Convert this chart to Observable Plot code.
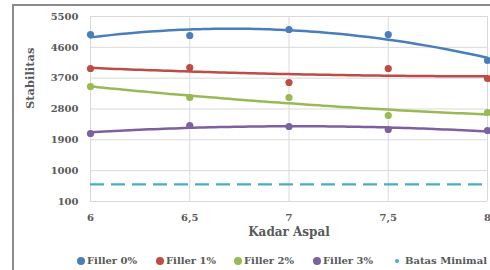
<!DOCTYPE html>
<html><head><meta charset="utf-8">
<script src="https://cdn.jsdelivr.net/npm/d3@7"></script>
<script src="https://cdn.jsdelivr.net/npm/@observablehq/plot@0.6"></script>
<style>
body{margin:0;background:#fff;width:490px;height:270px;overflow:hidden;position:relative;font-family:"DejaVu Serif",serif;}
#frame{position:absolute;left:12px;top:4px;width:500px;height:300px;border:2px solid #8c8c8c;box-sizing:border-box;}
#chart{position:absolute;left:0;top:0;}
.leg{position:absolute;top:253px;font:bold 10px "DejaVu Serif",serif;color:#595959;white-space:nowrap;line-height:16px;}
.leg span.m{display:inline-block;border-radius:50%;vertical-align:middle;margin-right:2px;position:relative;top:-1px;}
</style></head>
<body>
<div id="frame"></div>
<div id="chart"></div>
<div id="legend"></div>
<script>
const kadarAspal = [6, 6.5, 7, 7.5, 8];
const filler0 = [4975, 4945, 5120, 4975, 4216];
const filler1 = [3982, 4010, 3574, 3982, 3690];
const filler2 = [3457, 3136, 3136, 2610, 2698];
const filler3 = [2085, 2318, 2289, 2202, 2172];
const batasMinimal = 600;
const seriesNames = ["Filler 0%", "Filler 1%", "Filler 2%", "Filler 3%"];
const seriesColors = ["#4a7ebb", "#be4b48", "#98b954", "#7d60a0"];
const batasColor = "#4bacc6";
const yTicks = [100, 1000, 1900, 2800, 3700, 4600, 5500];
const xTicks = [6, 6.5, 7, 7.5, 8];

const allSeries = [filler0, filler1, filler2, filler3];
const points = [];
allSeries.forEach((vals, i) => vals.forEach((v, j) => points.push({x: kadarAspal[j], y: v, s: seriesNames[i]})));

// quadratic least-squares trendline (like Excel polynomial order 2)
function quadFit(xs, ys) {
  const c = 7;
  let S = [0,0,0,0,0], T = [0,0,0];
  xs.forEach((x0, k) => { const x = x0 - c; for (let p = 0; p < 5; p++) S[p] += x ** p; for (let p = 0; p < 3; p++) T[p] += ys[k] * x ** p; });
  const A = [[S[0],S[1],S[2],T[0]],[S[1],S[2],S[3],T[1]],[S[2],S[3],S[4],T[2]]];
  for (let i = 0; i < 3; i++) { for (let r = i + 1; r < 3; r++) { const f = A[r][i] / A[i][i]; for (let k = i; k < 4; k++) A[r][k] -= f * A[i][k]; } }
  const b = [0,0,0];
  for (let i = 2; i >= 0; i--) { let s = A[i][3]; for (let k = i + 1; k < 3; k++) s -= A[i][k] * b[k]; b[i] = s / A[i][i]; }
  return x => b[0] + b[1] * (x - c) + b[2] * (x - c) ** 2;
}
const trend = [];
allSeries.forEach((vals, i) => {
  const f = quadFit(kadarAspal, vals);
  for (let k = 0; k <= 40; k++) { const x = 6 + k * 0.05; trend.push({x, y: f(x), s: seriesNames[i]}); }
});

const color = {domain: seriesNames, range: seriesColors};
const fmtX = d => String(d).replace(".", ",");
const fmtY = d => String(d);

const plot = Plot.plot({
  width: 490, height: 245,
  marginLeft: 90, marginRight: 3, marginTop: 16, marginBottom: 44,
  style: {fontFamily: "DejaVu Serif, serif", fontSize: "10px", fontWeight: "bold", color: "#595959", background: "transparent", overflow: "visible"},
  x: {domain: [6, 8], ticks: xTicks, tickFormat: fmtX, label: null, tickSize: 0, tickPadding: 12},
  y: {domain: [100, 5500], ticks: yTicks, tickFormat: fmtY, label: null, tickSize: 0, tickPadding: 12},
  color,
  marks: [
    Plot.gridX(xTicks, {stroke: "#d9d9d9", strokeOpacity: 1, strokeWidth: 1}),
    Plot.gridY(yTicks, {stroke: "#d9d9d9", strokeOpacity: 1, strokeWidth: 1}),
    Plot.axisX({ticks: xTicks, tickFormat: fmtX, tickSize: 0, tickPadding: 12, label: null}),
    Plot.axisY({ticks: yTicks, tickFormat: fmtY, tickSize: 0, tickPadding: 12, label: null}),
    Plot.ruleY([batasMinimal], {stroke: batasColor, strokeWidth: 2.2, strokeDasharray: "14,7"}),
    Plot.line(trend, {x: "x", y: "y", z: "s", stroke: "s", strokeWidth: 2.5, curve: "natural"}),
    Plot.dot(points, {x: "x", y: "y", fill: "s", r: 3.6}),
    Plot.text(["Kadar Aspal"], {frameAnchor: "bottom", dy: 34, fontSize: 12, fill: "#595959", text: d => d}),
    Plot.text(["Stabilitas"], {frameAnchor: "left", dx: -60, rotate: -90, fontSize: 11.5, fill: "#595959", text: d => d})
  ]
});
document.getElementById("chart").appendChild(plot);

const legendItems = seriesNames.map((n, i) => ({name: n, color: seriesColors[i], size: 8})).concat([{name: "Batas Minimal", color: batasColor, size: 4}]);
const legX = [77, 156, 234, 313, 393];
const leg = document.getElementById("legend");
legendItems.forEach((it, i) => {
  const d = document.createElement("div");
  d.className = "leg";
  d.style.left = legX[i] + "px";
  d.innerHTML = `<span class="m" style="width:${it.size}px;height:${it.size}px;background:${it.color};${it.size < 6 ? "margin-right:6px;margin-left:2px;" : ""}"></span>${it.name}`;
  leg.appendChild(d);
});
</script>
</body></html>
